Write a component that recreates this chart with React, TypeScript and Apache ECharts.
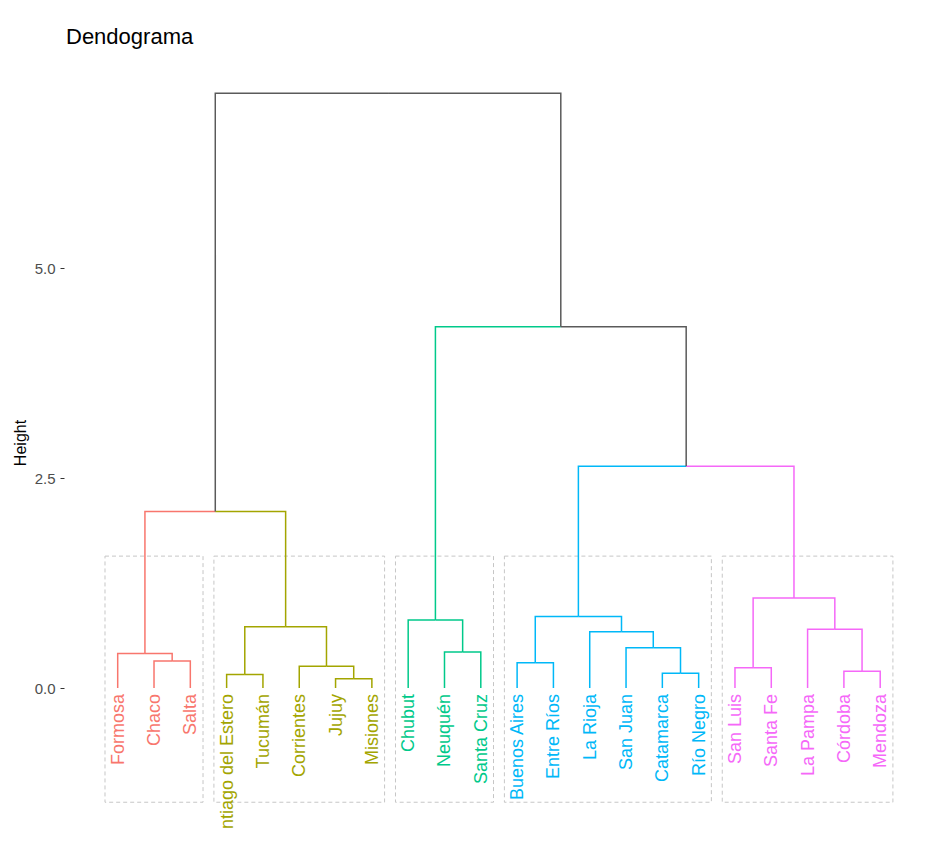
import React, { useEffect, useRef } from "react";
import * as echarts from "echarts";

// Leaves in dendrogram order
const leafNames = [
  "Formosa", "Chaco", "Salta",
  "Santiago del Estero", "Tucumán", "Corrientes", "Jujuy", "Misiones",
  "Chubut", "Neuquén", "Santa Cruz",
  "Buenos Aires", "Entre Ríos", "La Rioja", "San Juan", "Catamarca", "Río Negro",
  "San Luis", "Santa Fe", "La Pampa", "Córdoba", "Mendoza",
];
const leafCluster = [0, 0, 0, 1, 1, 1, 1, 1, 2, 2, 2, 3, 3, 3, 3, 3, 3, 4, 4, 4, 4, 4];
const clusterColors = ["#F8766D", "#A3A500", "#00C98A", "#00B8F8", "#F568F8"];
const trunkColor = "#5a5a5a";

// hclust-style merges: negative = leaf (1-based), positive = earlier merge (1-based)
const mergeLeft = [-2, -1, -4, -7, -6, 3, 2, -10, -9, -12, -16, -15, -14, 10, -18, -21, -20, 15, 14, 9, 7];
const mergeRight = [-3, 1, -5, -8, 4, 5, 6, -11, 8, -13, -17, 11, 12, 13, -19, -22, 16, 17, 18, 19, 20];
const mergeHeight = [0.32, 0.41, 0.16, 0.11, 0.26, 0.73, 2.1, 0.43, 0.81, 0.3, 0.175, 0.48, 0.67, 0.85, 0.24, 0.2, 0.7, 1.07, 2.64, 4.3, 7.08];

const yTicks = [0, 2.5, 5];

const FONT = "'Liberation Sans', Arial, sans-serif";

// layout constants (pixels)
const Y0PX = 688;
const PPU_Y = 84;
const YMIN = -1.67;
const YMAX = 7.4;
const X1PX = 117.7;
const PPU_X = 36.31;
const XMIN = 0.3;
const XMAX = 22.7;
const BOX_PAD = 0.35;
const BOX_TOP = 1.57;
const BOX_BOTTOM = -1.36;

function buildTree() {
  const nodeX: number[] = [];
  const nodeC: number[] = [];
  const childX = (c: number) => (c < 0 ? -c : nodeX[c - 1]);
  const childH = (c: number) => (c < 0 ? 0 : mergeHeight[c - 1]);
  const childC = (c: number) => (c < 0 ? leafCluster[-c - 1] : nodeC[c - 1]);
  const segs: number[][] = [];
  for (let k = 0; k < mergeHeight.length; k++) {
    const l = mergeLeft[k];
    const r = mergeRight[k];
    const x = (childX(l) + childX(r)) / 2;
    nodeX.push(x);
    const cl = childC(l);
    const cr = childC(r);
    nodeC.push(cl === cr ? cl : -1);
    for (const c of [l, r]) {
      segs.push([x, mergeHeight[k], childX(c), childH(c), childC(c)]);
    }
  }
  return segs;
}

function buildBoxes() {
  const boxes: number[][] = [];
  for (let c = 0; c < clusterColors.length; c++) {
    const idx: number[] = [];
    leafCluster.forEach((v, i) => {
      if (v === c) idx.push(i + 1);
    });
    boxes.push([Math.min(...idx) - BOX_PAD, Math.max(...idx) + BOX_PAD, BOX_BOTTOM, BOX_TOP]);
  }
  return boxes;
}

export default function App() {
  const ref = useRef<HTMLDivElement>(null);
  useEffect(() => {
    if (!ref.current) return;
    const chart = echarts.init(ref.current, undefined, { renderer: "svg" });
    const segs = buildTree();
    const boxes = buildBoxes();
    const labels = leafNames.map((n, i) => [i + 1, 0, leafCluster[i]]);
    const gridLeft = X1PX - (1 - XMIN) * PPU_X;
    const gridWidth = (XMAX - XMIN) * PPU_X;
    const gridTop = Y0PX - YMAX * PPU_Y;
    const gridHeight = (YMAX - YMIN) * PPU_Y;
    const axisX = 64.5;

    chart.setOption({
      animation: false,
      title: {
        text: "Dendograma",
        left: 61,
        top: 20,
        textStyle: { fontSize: 22, fontWeight: "normal", color: "#000", fontFamily: FONT },
      },
      grid: { left: gridLeft, top: gridTop, width: gridWidth, height: gridHeight },
      xAxis: { type: "value", min: XMIN, max: XMAX, show: false },
      yAxis: {
        type: "value",
        min: YMIN,
        max: YMAX,
        offset: gridLeft - axisX,
        axisLine: { show: false },
        splitLine: { show: false },
        axisTick: { show: true, length: 4, lineStyle: { color: "#333", width: 1 }, customValues: yTicks },
        axisLabel: {
          customValues: yTicks,
          formatter: (v: number) => v.toFixed(1),
          color: "#4D4D4D",
          fontSize: 15,
          fontFamily: FONT,
          margin: 9,
        },
      },
      graphic: [
        {
          type: "text",
          x: 20,
          y: 443,
          rotation: Math.PI / 2,
          style: {
            text: "Height",
            fill: "#000",
            fontSize: 16,
            fontFamily: FONT,
            align: "center",
            verticalAlign: "middle",
          },
        },
      ],
      series: [
        {
          type: "custom",
          clip: true,
          data: boxes,
          encode: { x: [0, 1], y: [2, 3] },
          renderItem: (params: any, api: any) => {
            const p1 = api.coord([api.value(0), api.value(3)]);
            const p2 = api.coord([api.value(1), api.value(2)]);
            return {
              type: "rect",
              shape: { x: p1[0], y: p1[1], width: p2[0] - p1[0], height: p2[1] - p1[1] },
              style: { fill: "none", stroke: "#C6C6C6", lineWidth: 1, lineDash: [4, 3] },
            };
          },
        },
        {
          type: "custom",
          clip: true,
          data: segs,
          encode: { x: [0, 2], y: [1, 3] },
          renderItem: (params: any, api: any) => {
            const xn = api.value(0);
            const hn = api.value(1);
            const xc = api.value(2);
            const hc = api.value(3);
            const ci = api.value(4);
            const color = ci >= 0 ? clusterColors[ci] : trunkColor;
            return {
              type: "polyline",
              shape: { points: [api.coord([xn, hn]), api.coord([xc, hn]), api.coord([xc, hc])] },
              style: { stroke: color, lineWidth: 1.5, fill: "none" },
            };
          },
        },
        {
          type: "custom",
          clip: true,
          data: labels,
          encode: { x: 0, y: 1 },
          renderItem: (params: any, api: any) => {
            const i = params.dataIndex;
            const p = api.coord([api.value(0), api.value(1)]);
            return {
              type: "text",
              x: p[0],
              y: p[1] + 6,
              rotation: Math.PI / 2,
              style: {
                text: leafNames[i],
                fill: clusterColors[leafCluster[i]],
                fontSize: 18,
                fontFamily: FONT,
                align: "right",
                verticalAlign: "middle",
              },
            };
          },
        },
      ],
    });
    return () => chart.dispose();
  }, []);
  return (
    <div
      ref={ref}
      style={{ position: "fixed", left: 0, top: 0, width: 932, height: 852, background: "#fff" }}
    />
  );
}
